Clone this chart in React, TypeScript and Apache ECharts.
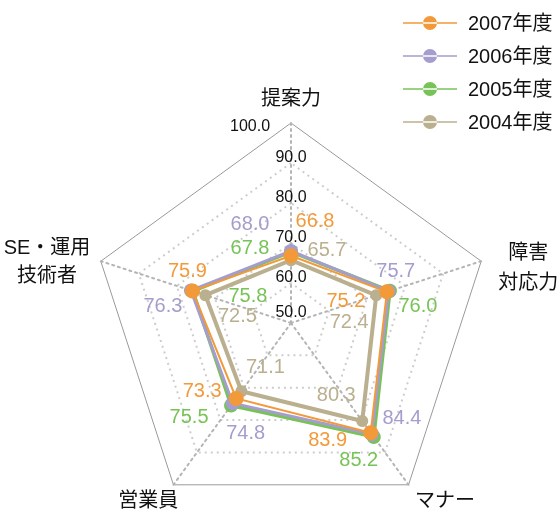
import React, { useEffect, useRef } from 'react';
import * as echarts from 'echarts';

// Indicators in ECharts order (counter-clockwise from top)
const INDICATORS = ['提案力', 'SE・運用\n技術者', '営業員', 'マナー', '障害\n対応力'];
const AXIS_MIN = 50;
const AXIS_MAX = 100;

const NAME_2007 = '2007年度';
const NAME_2006 = '2006年度';
const NAME_2005 = '2005年度';
const NAME_2004 = '2004年度';
const LEGEND_ORDER = [NAME_2007, NAME_2006, NAME_2005, NAME_2004];

const V2007 = [66.8, 75.9, 73.3, 83.9, 75.2];
const V2006 = [68.0, 76.3, 74.8, 84.4, 75.7];
const V2005 = [67.8, 75.8, 75.5, 85.2, 76.0];
const V2004 = [65.7, 72.5, 71.1, 80.3, 72.4];

// label offsets (px) relative to each point, same order as INDICATORS
const OFF2007 = [[24, -36], [-5, -21], [-34, -8], [-43, 6], [-41, 8]];
const OFF2006 = [[-41, -28], [-28, 15], [13, 29], [30, -17], [7, -21]];
const OFF2005 = [[-41, -5], [55, 4], [-42, 10], [-15, 22], [28, 14]];
const OFF2004 = [[36, -11], [32, 20], [24, -25], [-26, -27], [-27, 26]];

const FONT = '"Liberation Sans", Arial, "Noto Sans CJK JP", sans-serif';

const LEGEND_ICON = 'path://M0,6.2H54V7.8H0Z M20,7A7,7 0 1,0 34,7A7,7 0 1,0 20,7Z';

function makeRich(offsets: number[][], color: string) {
  const rich: Record<string, any> = {};
  offsets.forEach((o, i) => {
    const dx = o[0];
    const dy = o[1];
    rich['p' + i] = {
      fontSize: 20,
      fontFamily: FONT,
      color,
      padding: [dy > 0 ? 2 * dy : 0, dx < 0 ? -2 * dx : 0, dy < 0 ? -2 * dy : 0, dx > 0 ? 2 * dx : 0],
    };
  });
  return rich;
}

export default function App() {
  const ref = useRef<HTMLDivElement>(null);
  useEffect(() => {
    const chart = echarts.init(ref.current!, null, { renderer: 'svg' });

    const defs = [
      { name: NAME_2004, values: V2004, color: '#BAB08F', width: 4, size: 12, offsets: OFF2004 },
      { name: NAME_2005, values: V2005, color: '#78C357', width: 3.5, size: 14, offsets: OFF2005 },
      { name: NAME_2006, values: V2006, color: '#A49DCD', width: 3, size: 14, offsets: OFF2006 },
      { name: NAME_2007, values: V2007, color: '#F29A3A', width: 2, size: 15, offsets: OFF2007 },
    ];

    const nameOpts: any[] = [
      { nameGap: 15 },
      { nameGap: 11, nameTextStyle: { padding: [6, 0, 0, 0] } },
      { nameGap: -8, nameTextStyle: { align: 'right', verticalAlign: 'middle', padding: [44, 0, 0, 0] } },
      { nameGap: 11, nameTextStyle: { align: 'left', verticalAlign: 'middle', padding: [12, 0, 0, 0] } },
      { nameGap: 18, nameTextStyle: { padding: [22, 0, 0, 0] } },
    ];

    const tickRich = (pad: number[]) => ({ padding: pad, fontSize: 16, color: '#111', fontFamily: FONT });

    const indicator1 = INDICATORS.map((n, i) => {
      const ind: any = { name: n, min: AXIS_MIN, max: AXIS_MAX, ...nameOpts[i] };
      if (i === 0) {
        ind.axisLabel = {
          show: true,
          margin: 0,
          align: 'center',
          verticalAlign: 'middle',
          fontSize: 16,
          color: '#111',
          fontFamily: FONT,
          formatter: (v: any) => {
            const num = Number(v);
            const t = num.toFixed(1);
            if (num === AXIS_MAX) return '{t100|' + t + '}';
            if (num === AXIS_MIN) return '{t50|' + t + '}';
            return '{n|' + t + '}';
          },
          rich: {
            t100: tickRich([4, 82, 0, 0]),
            t50: tickRich([0, 0, 24, 0]),
            n: tickRich([0, 0, 14, 0]),
          },
        };
      }
      return ind;
    });

    const option: any = {
      animation: false,
      textStyle: { fontFamily: FONT },
      legend: {
        orient: 'vertical',
        left: 403,
        top: 13,
        padding: 0,
        itemWidth: 54,
        itemHeight: 14,
        itemGap: 13,
        icon: LEGEND_ICON,
        itemStyle: { borderWidth: 0 },
        data: LEGEND_ORDER,
        textStyle: { fontSize: 20, color: '#111', fontFamily: FONT, padding: [0, 0, 0, 6] },
      },
      radar: [
        {
          center: [291, 323],
          radius: 200,
          startAngle: 90,
          splitNumber: 5,
          indicator: indicator1,
          axisNameGap: 15,
          axisName: {
            color: '#111',
            fontSize: 20,
            fontFamily: FONT,
            formatter: (name: string) => {
              const lines = name.split('\n');
              if (lines.length === 1) return name;
              const key = name.indexOf('SE') === 0 ? 'a' : 'b';
              return lines.map((l) => '{' + key + '|' + l + '}').join('\n');
            },
            rich: {
              a: { align: 'center', lineHeight: 28, fontSize: 20, color: '#111', fontFamily: FONT },
              b: { align: 'center', lineHeight: 30, fontSize: 20, color: '#111', fontFamily: FONT },
            },
          },
          axisLine: { lineStyle: { color: '#b4b4b4', width: 2, type: [2, 4] } },
          splitLine: {
            lineStyle: {
              color: ['#cdcdcd', '#cdcdcd', '#cdcdcd', '#cdcdcd', '#cdcdcd', 'rgba(0,0,0,0)'],
              width: 2,
              type: [2, 4],
            },
          },
          splitArea: { show: false },
          axisTick: { show: false },
          axisLabel: { show: false },
        },
        {
          center: [291, 323],
          radius: 200,
          startAngle: 90,
          splitNumber: 1,
          indicator: INDICATORS.map((n) => ({ name: n, min: AXIS_MIN, max: AXIS_MAX })),
          axisName: { show: false },
          axisLine: { show: false },
          splitLine: { lineStyle: { color: '#9a9a9a', width: 1 } },
          splitArea: { show: false },
          axisTick: { show: false },
          axisLabel: { show: false },
        },
      ],
      series: defs.map((d) => ({
        type: 'radar',
        radarIndex: 0,
        name: d.name,
        symbol: 'circle',
        symbolSize: d.size,
        lineStyle: { color: d.color, width: d.width },
        itemStyle: { color: d.color },
        label: {
          show: true,
          position: 'inside',
          fontSize: 20,
          fontFamily: FONT,
          color: d.color,
          formatter: (p: any) => {
            const v = Number(p.value);
            const i = d.values.indexOf(v);
            const t = v.toFixed(1);
            return i >= 0 ? '{p' + i + '|' + t + '}' : t;
          },
          rich: makeRich(d.offsets, d.color),
        },
        data: [{ name: d.name, value: d.values }],
      })),
    };

    chart.setOption(option);
    return () => chart.dispose();
  }, []);
  return <div ref={ref} style={{ position: 'fixed', left: 0, top: 0, width: 560, height: 511 }} />;
}
